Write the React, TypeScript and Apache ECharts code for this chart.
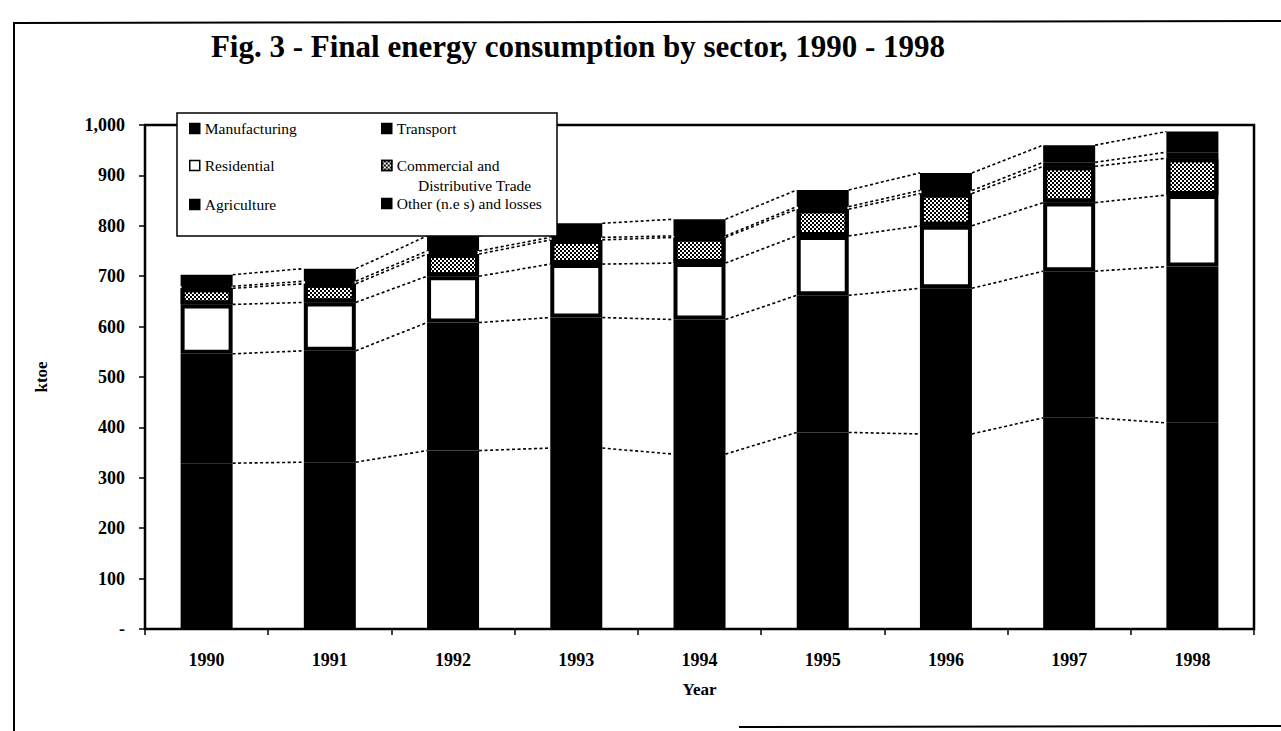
import React, { useEffect, useRef } from 'react';
import * as echarts from 'echarts';

const years = ['1990', '1991', '1992', '1993', '1994', '1995', '1996', '1997', '1998'];
const manufacturing = [329, 331, 354, 359, 347, 390, 387, 419, 409];
const transport = [217, 221, 254, 259, 267, 272, 289, 291, 310];
const residential = [98, 96, 92, 106, 112, 118, 124, 136, 142];
const commercial = [32, 37, 44, 48, 51, 53, 64, 72, 73];
const agriculture = [4, 5, 6, 5, 3, 5, 6, 8, 12];
const other = [23, 25, 30, 28, 33, 33, 35, 34, 41];

const seriesNames = [
  'Manufacturing',
  'Transport',
  'Residential',
  'Commercial and',
  'Agriculture',
  'Other (n.e s) and losses',
];

const yMin = 0;
const yMax = 1000;
const yInterval = 100;

const FONT = '"Liberation Serif", "DejaVu Serif", serif';

export default function App() {
  const ref = useRef<HTMLDivElement>(null);

  useEffect(() => {
    document.body.style.margin = '0';
    if (!ref.current) return;
    const chart = echarts.init(ref.current, null, { renderer: 'svg' });

    const stacks = [manufacturing, transport, residential, commercial, agriculture, other];
    const cumulative: number[][] = [];
    stacks.forEach((arr, k) => {
      cumulative.push(arr.map((v, i) => v + (k > 0 ? cumulative[k - 1][i] : 0)));
    });

    const barWidth = 52;
    const borderW = 4;
    const half = barWidth / 2;

    const fills = ['#000', '#000', '#fff', '#fff', '#000', '#000'];

    const barSeries = stacks.map((arr, k) => ({
      name: seriesNames[k],
      type: 'bar',
      stack: 'total',
      barWidth,
      data: arr,
      itemStyle: {
        color: fills[k],
        borderColor: '#000',
        borderWidth: borderW,
        decal:
          k === 3
            ? {
                symbol: 'rect',
                symbolSize: 1,
                color: '#000',
                dashArrayX: [
                  [1.5, 1.5],
                  [0, 1.5, 1.5, 0],
                ],
                dashArrayY: [1.5, 0],
                rotation: 0,
              }
            : 'none',
      },
      emphasis: { disabled: true },
      silent: true,
      z: 2,
    }));

    const lineSeries = {
      type: 'custom',
      name: 'serieslines',
      data: years.slice(0, -1).map((_, i) => [i, 0]),
      encode: { x: 0, y: 1 },
      silent: true,
      z: 3,
      renderItem: (params: any, api: any) => {
        const i = api.value(0);
        const children = cumulative.map((cum) => {
          const p1 = api.coord([i, cum[i]]);
          const p2 = api.coord([i + 1, cum[i + 1]]);
          return {
            type: 'line',
            shape: { x1: p1[0] + half, y1: p1[1], x2: p2[0] - half, y2: p2[1] },
            style: { stroke: '#000', lineWidth: 1.6, lineDash: [3, 2.5] },
          };
        });
        return { type: 'group', children };
      },
    };

    const legendItem = (name: string, left: number, top: number, iconFill: string) => ({
      show: true,
      left,
      top,
      orient: 'horizontal',
      padding: 0,
      itemWidth: 10,
      itemHeight: 10,
      itemGap: 0,
      icon: 'rect',
      selectedMode: false,
      z: 10,
      data: [{ name, itemStyle: { borderColor: '#000', borderWidth: 1.5, color: iconFill } }],
      textStyle: { fontFamily: FONT, fontSize: 15.5, color: '#000', lineHeight: 17 },
    });

    const option: any = {
      animation: false,
      backgroundColor: '#fff',
      title: {
        text: 'Fig. 3 - Final energy consumption by sector, 1990 - 1998',
        left: 578,
        textAlign: 'center',
        top: 31,
        padding: 0,
        textStyle: { fontFamily: FONT, fontSize: 31, fontWeight: 'bold', color: '#000' },
      },
      legend: [
        legendItem(seriesNames[0], 189, 120, '#000'),
        legendItem(seriesNames[1], 381, 120, '#000'),
        legendItem(seriesNames[2], 189, 157, '#fff'),
        legendItem(seriesNames[3], 381, 157, '#fff'),
        legendItem(seriesNames[4], 189, 196, '#000'),
        legendItem(seriesNames[5], 381, 195, '#000'),
      ],
      grid: {
        left: 145,
        right: 27,
        top: 125,
        bottom: 102,
        show: true,
        borderColor: '#000',
        borderWidth: 2.5,
        backgroundColor: 'transparent',
      },
      xAxis: {
        type: 'category',
        data: years,
        name: 'Year',
        nameLocation: 'middle',
        nameGap: 52,
        nameTextStyle: { fontFamily: FONT, fontSize: 17, fontWeight: 'bold', color: '#000' },
        axisLine: { lineStyle: { color: '#000', width: 2 } },
        axisTick: { show: true, length: 6, lineStyle: { color: '#000', width: 1.5 } },
        axisLabel: { margin: 22, fontFamily: FONT, fontSize: 18, fontWeight: 'bold', color: '#000' },
        splitLine: { show: false },
      },
      yAxis: {
        type: 'value',
        min: yMin,
        max: yMax,
        interval: yInterval,
        name: 'ktoe',
        nameLocation: 'middle',
        nameGap: 95,
        nameRotate: 90,
        nameTextStyle: { fontFamily: FONT, fontSize: 17, fontWeight: 'bold', color: '#000' },
        axisLine: { show: true, lineStyle: { color: '#000', width: 2 } },
        axisTick: { show: true, length: 6, lineStyle: { color: '#000', width: 1.5 } },
        axisLabel: {
          margin: 20,
          fontFamily: FONT,
          fontSize: 18,
          fontWeight: 'bold',
          color: '#000',
          formatter: (v: number) => (v === 0 ? '-' : v.toLocaleString('en-US')),
        },
        splitLine: { show: false },
      },
      graphic: [
        { type: 'line', z: 100, shape: { x1: 13, y1: 23, x2: 1281, y2: 21 }, style: { stroke: '#000', lineWidth: 2 } },
        { type: 'line', z: 100, shape: { x1: 14, y1: 22, x2: 14, y2: 731 }, style: { stroke: '#000', lineWidth: 2 } },
        { type: 'line', z: 100, shape: { x1: 739, y1: 727, x2: 1281, y2: 726 }, style: { stroke: '#000', lineWidth: 2 } },
        {
          type: 'rect',
          z: 5,
          shape: { x: 177, y: 113, width: 380, height: 123 },
          style: { fill: '#fff', stroke: '#000', lineWidth: 1.5 },
        },
        {
          type: 'text',
          z: 11,
          x: 418,
          y: 185,
          style: {
            text: 'Distributive Trade',
            fontFamily: FONT,
            fontSize: 15.5,
            fill: '#000',
            verticalAlign: 'middle',
          },
        },
      ],
      tooltip: { show: false },
      series: [...barSeries, lineSeries],
    };

    chart.setOption(option);
    return () => {
      chart.dispose();
    };
  }, []);

  return (
    <div style={{ position: 'fixed', left: 0, top: 0, width: 1281, height: 731, background: '#fff' }}>
      <div ref={ref} style={{ width: 1281, height: 731 }} />
    </div>
  );
}
